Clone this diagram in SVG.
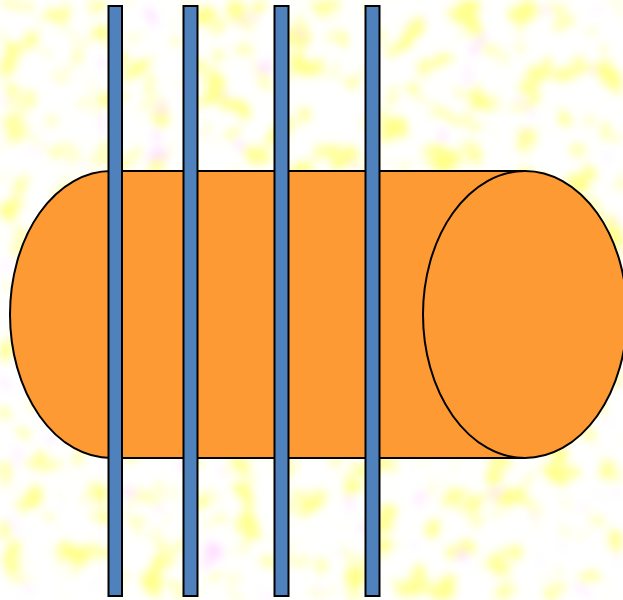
<svg xmlns="http://www.w3.org/2000/svg" width="623" height="600" viewBox="0 0 623 600">
<defs>
<filter id="speckle" x="0" y="0" width="100%" height="100%" filterUnits="userSpaceOnUse">
<feTurbulence type="fractalNoise" baseFrequency="0.035" numOctaves="2" seed="7" result="n"/>
<feColorMatrix in="n" type="matrix" values="0 0 0 0 1  0 0 0 0 1  0 0 0 0 0.25  5 0 0 0 -2.6" result="y"/>
<feColorMatrix in="n" type="matrix" values="0 0 0 0 1  0 0 0 0 0.7  0 0 0 0 1  0 6 0 0 -4.2" result="p"/>
<feMerge result="m"><feMergeNode in="y"/><feMergeNode in="p"/></feMerge>
<feGaussianBlur in="m" stdDeviation="4"/>
</filter>
<style>
.cyl{fill:#fd9a33;stroke:#000;stroke-width:2}
.bar{fill:#4f81bd;stroke:#000;stroke-width:2}
</style>
</defs>
<rect width="623" height="600" fill="#fff"/>
<rect width="623" height="600" fill="#fff" filter="url(#speckle)"/>
<g id="cylinder">
<path class="cyl" d="M111,171 H525 V458 H111 A101,143.5 0 0 1 111,171 Z"/>
<ellipse class="cyl" cx="525" cy="314.5" rx="102" ry="143.5"/>
</g>
<g id="bars">
<rect class="bar" x="108.5" y="6" width="13.5" height="590"/>
<rect class="bar" x="183.5" y="6" width="14" height="590"/>
<rect class="bar" x="274.5" y="6" width="14" height="590"/>
<rect class="bar" x="365.5" y="6" width="14" height="590"/>
</g>
</svg>
